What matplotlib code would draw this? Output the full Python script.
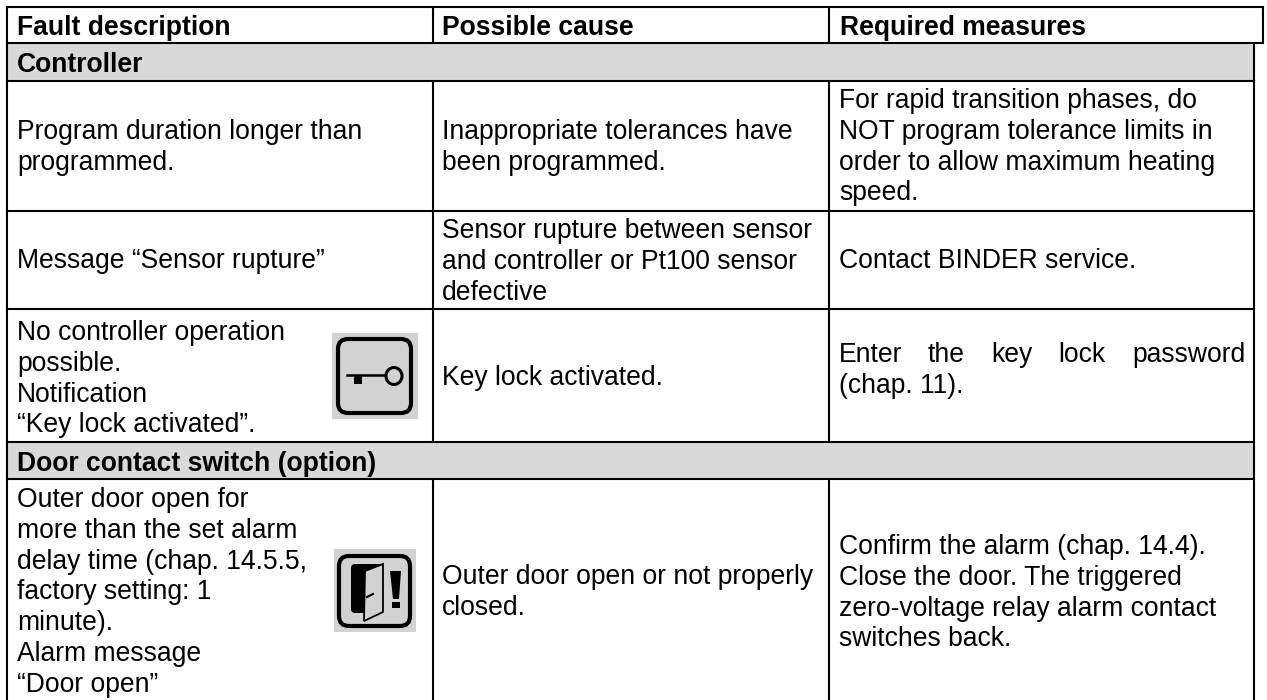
import matplotlib
matplotlib.use("Agg")
from matplotlib import pyplot as plt
from matplotlib.patches import FancyBboxPatch, Rectangle, Polygon, Ellipse

plt.rcParams['font.family'] = ['Liberation Sans', 'DejaVu Sans']

headers = ["Fault description", "Possible cause", "Required measures"]
sections = ["Controller", "Door contact switch (option)"]

faults = [
    ["Program duration longer than", "programmed."],
    ["Message “Sensor rupture”"],
    ["No controller operation", "possible.", "Notification", "“Key lock activated”."],
    ["Outer door open for", "more than the set alarm", "delay time (chap. 14.5.5,",
     "factory setting: 1", "minute).", "Alarm message", "“Door open”"],
]
causes = [
    ["Inappropriate tolerances have", "been programmed."],
    ["Sensor rupture between sensor", "and controller or Pt100 sensor", "defective"],
    ["Key lock activated."],
    ["Outer door open or not properly", "closed."],
]
measures = [
    ["For rapid transition phases, do", "NOT program tolerance limits in",
     "order to allow maximum heating", "speed."],
    ["Contact BINDER service."],
    ["Enter the key lock password", "(chap. 11)."],
    ["Confirm the alarm (chap. 14.4).", "Close the door. The triggered",
     "zero-voltage relay alarm contact", "switches back."],
]

# layout, in pixels of the picture
W, H = 1267, 700
x_left, x_col2, x_col3, x_right, x_head_right = 7, 433, 829, 1254, 1263
y_top, y_head, y_sec1, y_row1, y_row2, y_row3, y_sec2, y_bottom = 7, 43, 81, 211, 309, 442, 479, 700
LW = 1.5
FS = 19.1
GAP = 30.8
ICON_GREY = '#d2d2d2'

fig = plt.figure(figsize=(W/100, H/100), dpi=100)
ax = fig.add_axes([0, 0, 1, 1])
ax.set_xlim(0, W)
ax.set_ylim(H, 0)
ax.axis('off')


def hline(y, x0, x1):
    ax.plot([x0, x1], [y, y], color='black', lw=LW, solid_capstyle='projecting', zorder=3)


def vline(x, y0, y1):
    ax.plot([x, x], [y0, y1], color='black', lw=LW, solid_capstyle='butt', zorder=3)


def block(x, y, lines, weight='normal'):
    for i, line in enumerate(lines):
        ax.text(x, y + i*GAP, line, fontsize=FS, fontweight=weight, va='baseline', ha='left',
                color='black', zorder=4)


# grey section bands
for y0, y1 in [(y_head, y_sec1), (y_row3, y_sec2)]:
    ax.add_patch(Rectangle((x_left, y0), x_right - x_left, y1 - y0, fc='#d9d9d9', ec='none', zorder=1))

# rules
hline(y_top, x_left, x_head_right)
hline(y_head, x_left, x_head_right)
for y in [y_sec1, y_row1, y_row2, y_row3, y_sec2]:
    hline(y, x_left, x_right)
vline(x_left, y_top, y_bottom)
vline(x_head_right, y_top, y_head)
vline(x_right, y_head, y_bottom)
for x in [x_col2, x_col3]:
    vline(x, y_top, y_head)
    vline(x, y_sec1, y_row3)
    vline(x, y_sec2, y_bottom)

# texts
for x, head in zip([17, 442, 840], headers):
    block(x, 35, [head], 'bold')
block(17, 72, [sections[0]], 'bold')
block(17, 471, [sections[1]], 'bold')

for lines, y in zip(faults, [139, 268, 340, 507]):
    block(17, y, lines)
for lines, y in zip(causes, [139, 238, 385, 584]):
    block(442, y, lines)
block(839, 108, measures[0])
block(839, 268, measures[1])
# justified line: one word at a time
for word, x in zip(measures[2][0].split(), [839, 928, 991, 1058, 1132]):
    ax.text(x, 362, word, fontsize=FS, va='baseline', color='black', zorder=4)
block(839, 393, measures[2][1:])
block(839, 554, measures[3])

# key icon
ax.add_patch(Rectangle((332, 333), 86, 86, fc=ICON_GREY, ec='none', zorder=2))
ax.add_patch(FancyBboxPatch((338, 339), 73, 74, boxstyle='round,pad=0,rounding_size=10',
                            fc=ICON_GREY, ec='black', lw=3, zorder=3))
ax.plot([347, 386], [375, 375], color='black', lw=1.8, zorder=4)
ax.add_patch(Rectangle((354, 375), 8, 9, fc='black', ec='none', zorder=4))
ax.add_patch(Ellipse((394, 376), 16, 17, fc=ICON_GREY, ec='black', lw=2.2, zorder=4))

# door icon
ax.add_patch(Rectangle((334, 549), 82, 83, fc=ICON_GREY, ec='none', zorder=2))
ax.add_patch(FancyBboxPatch((339, 556), 71, 70, boxstyle='round,pad=0,rounding_size=10',
                            fc=ICON_GREY, ec='black', lw=3, zorder=3))
ax.add_patch(FancyBboxPatch((351, 564), 32, 49, boxstyle='round,pad=0,rounding_size=4',
                            fc='black', ec='none', zorder=4))
ax.add_patch(Polygon([(365, 571), (383, 564), (383, 612), (364, 621)], closed=True,
                     fc=ICON_GREY, ec='black', lw=1.3, zorder=5))
ax.plot([367, 373], [597, 594], color='black', lw=1.5, zorder=6)
ax.add_patch(Polygon([(390, 571), (401, 571), (399, 599), (393, 599)], closed=True,
                     fc='black', ec='none', zorder=4))
ax.add_patch(Rectangle((392, 602), 8, 6, fc='black', ec='none', zorder=4))

fig.savefig('out.png', dpi=100)
